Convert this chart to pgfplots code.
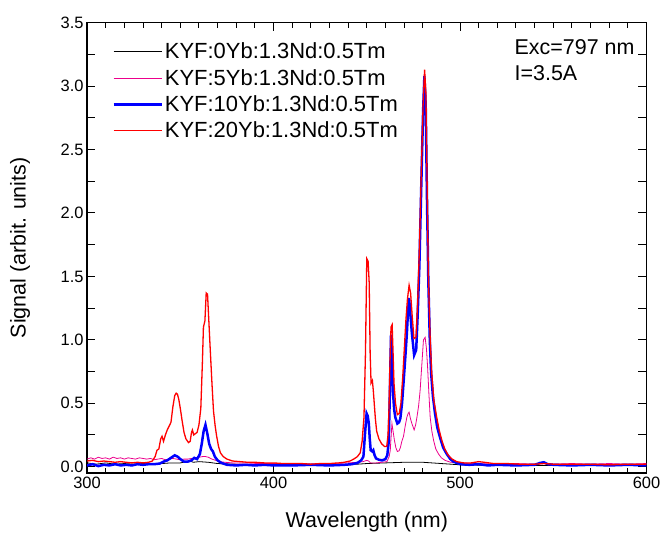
\documentclass[border=0pt]{standalone}
\usepackage{pgfplots}
\pgfplotsset{compat=1.18}
\usepackage{fontspec}
\setmainfont{Liberation Sans}

% emission spectra
\pgfplotstableread{
x y
300 0.03
305 0.02
310 0.03
315 0.02
320 0.025
325 0.02
330 0.025
335 0.02
340 0.025
345 0.03
350 0.03
355 0.045
357 0.035
360 0.04
365 0.035
370 0.025
380 0.02
390 0.015
400 0.015
420 0.01
440 0.015
450 0.025
460 0.03
470 0.035
480 0.035
490 0.025
500 0.015
520 0.01
540 0.01
560 0.01
580 0.01
600 0.01
}\yba

\pgfplotstableread{
x y
300 0.06
302 0.07
304 0.06
306 0.075
308 0.065
310 0.07
312 0.06
314 0.075
316 0.065
318 0.07
320 0.06
322 0.07
324 0.065
326 0.06
328 0.07
330 0.065
332 0.06
334 0.065
336 0.055
338 0.06
340 0.065
342 0.055
344 0.06
346 0.065
348 0.06
350 0.055
352 0.06
354 0.06
356 0.065
358 0.07
360 0.075
362 0.08
363.5 0.08
365 0.075
367 0.06
369 0.05
371 0.04
374 0.035
378 0.03
385 0.03
392 0.025
400 0.025
410 0.025
420 0.02
430 0.025
440 0.03
445 0.035
448 0.04
450 0.05
451 0.045
452 0.03
455 0.03
458 0.035
460.8 0.04
462 0.08
462.6 0.13
463.1 0.25
463.5 0.34
464 0.29
464.8 0.21
465.6 0.15
466.4 0.12
467.3 0.125
468 0.15
468.8 0.2
469.7 0.24
470.6 0.32
471.5 0.39
472.2 0.42
472.7 0.43
473.4 0.38
474.2 0.34
475.4 0.29
476.2 0.33
476.9 0.39
477.8 0.48
478.6 0.6
479.5 0.8
480.4 1.0
481.3 1.02
482 0.93
482.6 0.79
483.3 0.58
484 0.39
484.9 0.28
485.8 0.21
487 0.14
488.5 0.1
490 0.07
492 0.05
495 0.035
500 0.03
510 0.025
520 0.02
530 0.025
540 0.02
545 0.025
550 0.02
560 0.025
570 0.02
580 0.025
590 0.02
600 0.025
}\ybb

\pgfplotstableread{
x y
300 0.01
303 0.02
306 0.005
309 0.015
312 0.01
315 0.02
318 0.01
321 0.015
324 0.01
327 0.02
330 0.015
333 0.02
336 0.02
339 0.025
341 0.04
343 0.05
345 0.07
347 0.09
348.5 0.08
350 0.06
352 0.04
354 0.04
356 0.05
357.5 0.07
359 0.06
360.5 0.1
361.5 0.18
362.5 0.28
363.5 0.33
364.5 0.26
365.5 0.18
366.5 0.14
367.5 0.12
368.5 0.08
370 0.05
372 0.03
375 0.015
380 0.01
385 0.015
390 0.01
395 0.015
400 0.01
410 0.01
420 0.015
430 0.01
438 0.015
442 0.02
445 0.03
447 0.05
448.2 0.08
449 0.25
449.9 0.42
450.5 0.4
451.1 0.34
451.6 0.22
452.1 0.13
453 0.12
453.5 0.13
454.2 0.09
455 0.065
456.5 0.055
458.2 0.05
460 0.06
461 0.09
461.8 0.2
462.4 0.6
463 1.04
463.5 0.85
464 0.6
464.7 0.45
465.3 0.39
466.4 0.34
467.3 0.35
468 0.38
468.9 0.5
469.7 0.66
470.6 0.85
471.5 1.05
472.2 1.25
472.7 1.33
473.4 1.2
474.2 1.05
475.4 0.88
476.5 0.92
477.3 1.2
478.2 1.58
479.2 2.2
480.2 2.8
480.9 3.08
481.6 2.85
482.3 2.1
483 1.47
483.8 1.0
484.5 0.74
485.5 0.55
486.6 0.42
487.8 0.31
489.3 0.23
491 0.15
492.9 0.1
494.8 0.06
496.5 0.04
500 0.02
505 0.015
510 0.02
515 0.01
520 0.015
530 0.01
540 0.015
543 0.03
545 0.035
547 0.02
550 0.015
560 0.01
570 0.015
580 0.01
590 0.015
600 0.01
}\ybc

\pgfplotstableread{
x y
300 0.045
303 0.05
306 0.04
309 0.045
312 0.04
315 0.035
318 0.04
321 0.035
324 0.03
327 0.035
330 0.03
333 0.035
335 0.045
336.5 0.08
337.5 0.13
338.5 0.14
339.5 0.22
340.2 0.24
341 0.2
342 0.25
343 0.29
344 0.32
345 0.35
346 0.47
347 0.56
347.8 0.58
348.5 0.57
349.2 0.53
350 0.46
351 0.36
352 0.27
353 0.22
354.4 0.19
355.3 0.2
356 0.27
356.5 0.29
357.2 0.25
358 0.26
359 0.27
360 0.33
361 0.46
361.8 0.8
362.4 1.1
363.2 1.15
363.9 1.37
364.6 1.36
365.3 1.15
366 0.94
367 0.65
367.8 0.44
368.7 0.32
369.5 0.24
370.5 0.16
371.5 0.11
373 0.08
375 0.06
378 0.045
382 0.04
386 0.035
390 0.035
395 0.03
400 0.03
405 0.025
410 0.025
415 0.025
420 0.02
425 0.025
430 0.025
435 0.03
438 0.035
441 0.045
443 0.06
445 0.08
446.5 0.11
447.5 0.2
448.5 0.39
449.3 0.9
450 1.64
450.7 1.62
451.3 1.45
451.8 0.9
452.3 0.66
453 0.68
453.5 0.6
454 0.5
454.6 0.38
455.3 0.28
456.5 0.22
458 0.18
459.5 0.16
460.7 0.16
461.4 0.25
461.9 0.45
462.5 0.85
463 1.1
463.6 1.12
464.1 0.9
464.6 0.66
465.4 0.5
466.4 0.41
467.4 0.42
468.3 0.5
469.3 0.71
470.2 0.95
471 1.16
471.8 1.32
472.7 1.43
473.5 1.37
474.3 1.2
475.3 1.01
476.4 1.02
477.3 1.3
478.2 1.71
479.2 2.3
480.2 2.85
481 3.13
481.7 2.95
482.3 2.3
483 1.52
483.9 1.05
484.8 0.74
486 0.52
487.5 0.39
488.8 0.29
490.2 0.21
491.8 0.14
493.7 0.09
495.8 0.06
498.2 0.04
502 0.03
506 0.03
510 0.04
513 0.035
518 0.025
525 0.025
532 0.02
540 0.02
545 0.025
550 0.02
560 0.02
570 0.02
580 0.015
590 0.02
600 0.02
}\ybd

\begin{document}
\begin{tikzpicture}
\begin{axis}[
    scale only axis,
    width=559bp, height=450bp,
    xmin=300, xmax=600,
    ymin=-0.05, ymax=3.5,
    xtick={300,400,500,600},
    minor x tick num=9,
    ytick={0,0.5,...,3.5},
    extra y ticks={0.25,0.75,...,3.25},
    extra y tick labels={},
    tick align=inside,
    major tick length=8bp,
    minor tick length=5bp,
    tick style={line width=1bp, black},
    axis line style={line width=1.3bp},
    yticklabel style={/pgf/number format/.cd, fixed, fixed zerofill, precision=1},
    /pgf/number format/assume math mode=true,
    tick label style={font=\fontsize{16.5}{18}\selectfont},
    label style={font=\fontsize{21.5}{24}\selectfont},
    xlabel={Wavelength (nm)},
    ylabel={Signal (arbit. units)},
    xlabel style={at={(axis description cs:0.5,0)}, anchor=center, yshift=-49bp},
    ylabel style={at={(axis description cs:0,0.5)}, anchor=center, yshift=67bp},
    legend cell align=left,
    legend style={at={(rel axis cs:0.045,0.96)}, anchor=north west, draw=none, fill=none,
        inner sep=0pt, row sep=5bp, font=\fontsize{22}{24}\selectfont,
        /tikz/every even column/.append style={column sep=6bp}},
    legend image code/.code={\draw[#1] (0bp,0bp) -- (48bp,0bp);},
]
\addplot[black, line width=0.8bp] table {\yba};
\addplot[magenta, line width=0.8bp] table {\ybb};
\addplot[blue, line width=2.5bp] table {\ybc};
\addplot[red, line width=1.3bp] table {\ybd};
\legend{KYF:0Yb:1.3Nd:0.5Tm, KYF:5Yb:1.3Nd:0.5Tm, KYF:10Yb:1.3Nd:0.5Tm, KYF:20Yb:1.3Nd:0.5Tm}
\node[anchor=north west, align=left, inner sep=0pt, font=\fontsize{21.5}{26}\selectfont]
    at (rel axis cs:0.764,0.964) {Exc=797 nm\\I=3.5A};
\coordinate (SW) at (rel axis cs:0,0);
\coordinate (NE) at (rel axis cs:1,1);
\end{axis}
\pgfresetboundingbox
\path ([shift={(-87bp,-61.3bp)}]SW) rectangle ([shift={(15.5bp,22.7bp)}]NE);
\end{tikzpicture}
\end{document}
